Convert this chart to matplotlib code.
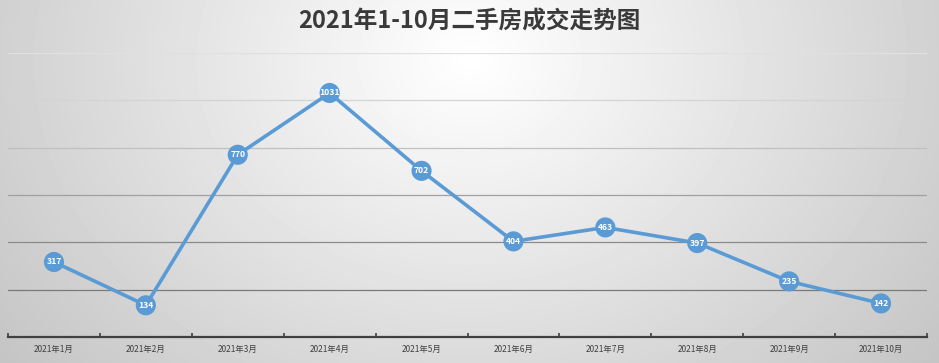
import matplotlib.pyplot as plt
import numpy as np

plt.rcParams['font.family'] = ['Noto Sans CJK SC', 'DejaVu Sans']

# ── Data ─────────────────────────────────────────────────────────────────────
months = ["2021年1月", "2021年2月", "2021年3月", "2021年4月", "2021年5月",
          "2021年6月", "2021年7月", "2021年8月", "2021年9月", "2021年10月"]
deals = [317, 134, 770, 1031, 702, 404, 463, 397, 235, 142]
y_ticks = [0, 200, 400, 600, 800, 1000, 1200]

TITLE = "2021年1-10月二手房成交走势图"
C_LINE = "#5b9bd5"

W, H = 939, 363
fig = plt.figure(figsize=(W / 100, H / 100), dpi=100)

# radial grey background
bg = fig.add_axes([0, 0, 1, 1])
yy, xx = np.mgrid[0:H, 0:W]
r = np.sqrt(((xx - 470) / 520) ** 2 + ((yy - 60) / 420) ** 2)
shade = np.clip(1.0 - 0.2 * r, 0.77, 1.0)
bg.imshow(shade, cmap="gray", vmin=0, vmax=1, aspect="auto",
          extent=[0, 1, 0, 1], origin="upper")
bg.set_axis_off()

ax = fig.add_axes([8 / W, 1 - 337 / H, 919 / W, 284 / H])
ax.patch.set_alpha(0)

x = np.arange(len(months))
ax.plot(x, deals, color=C_LINE, lw=2.6, zorder=3, solid_capstyle="round")
ax.scatter(x, deals, s=210, color=C_LINE, zorder=4, edgecolor="none")
for xi, v in zip(x, deals):
    ax.text(xi, v, str(v), ha="center", va="center", fontsize=6.2,
            fontweight="bold", color="white", zorder=5)

ax.set_xlim(-0.5, len(months) - 0.5)
ax.set_ylim(y_ticks[0], y_ticks[-1])
ax.set_yticks(y_ticks)
ax.tick_params(axis="y", left=False, labelleft=False)
ax.yaxis.grid(True, lw=0.9, zorder=0)
grid_cols = ["#404040", "#7a7a7a", "#8a8a8a", "#a0a0a0", "#c0c0c0", "#d4d4d4", "#e0e0e0"]
for gl, c in zip(ax.get_ygridlines(), grid_cols):
    gl.set_color(c)

ax.set_xticks(x)
ax.set_xticklabels(months, fontsize=6, color="#404040")
ax.set_xticks(np.arange(len(months) + 1) - 0.5, minor=True)
ax.tick_params(axis="x", which="major", length=0, pad=6)
ax.tick_params(axis="x", which="minor", length=3, width=1.2, color="#404040", direction="in")
for s in ["top", "right", "left"]:
    ax.spines[s].set_visible(False)
ax.spines["bottom"].set_color("#404040")
ax.spines["bottom"].set_linewidth(1.6)

fig.text(0.5, 1 - 22 / H, TITLE, ha="center", va="center", fontsize=17,
         fontweight="bold", color="#3a3a3a")

fig.savefig("out.png", dpi=100)
